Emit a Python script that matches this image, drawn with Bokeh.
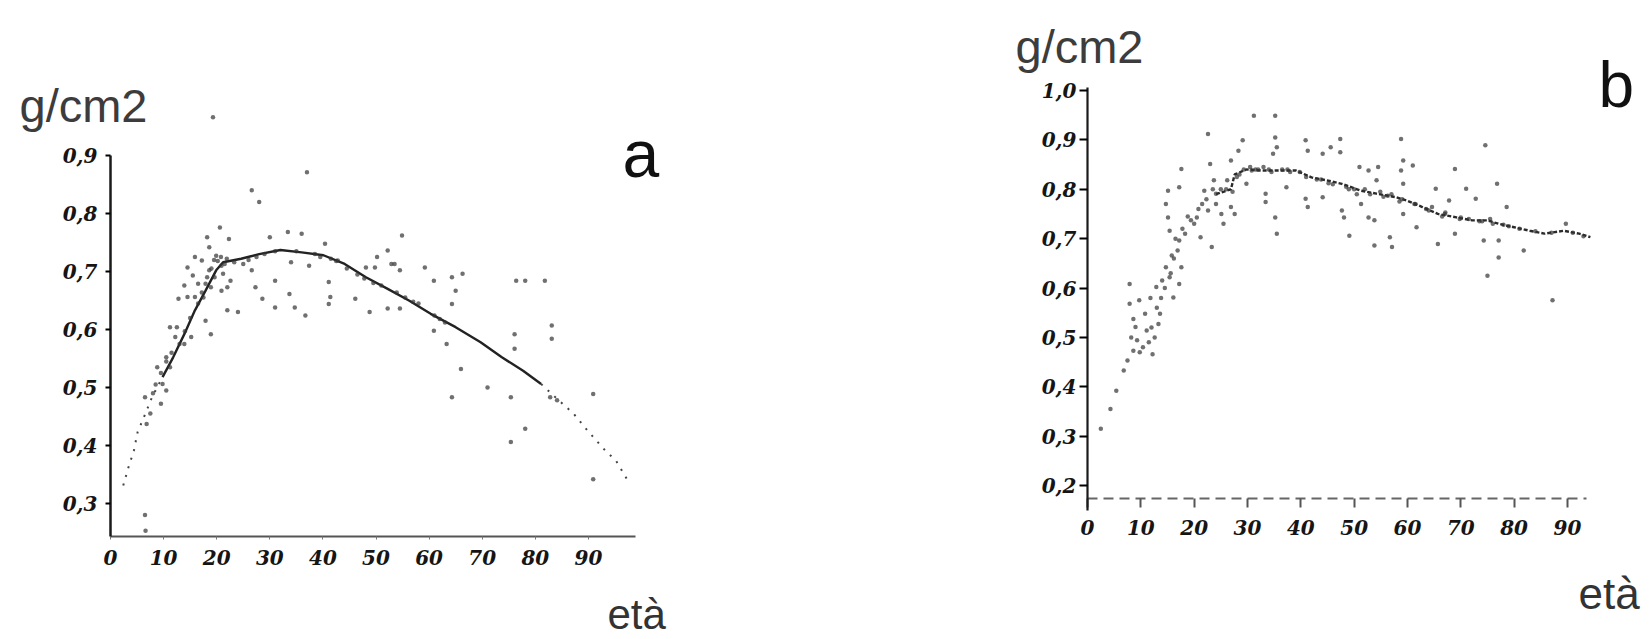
from bokeh.plotting import figure
from bokeh.models import Range1d, FixedTicker, Label
from bokeh.layouts import row
from bokeh.embed import file_html
from bokeh.resources import INLINE

# ---------------- data: panel a ----------------
a_age = [37.0, 26.6, 28.0, 20.6, 18.2, 22.3, 33.4, 36.0, 30.0, 40.4, 54.9, 52.2, 50.2, 53.5, 54.5, 59.2,
         60.9, 66.3, 64.3, 76.4, 78.1, 81.8, 83.1, 83.1, 76.1, 76.1, 65.0, 64.3, 60.9, 63.3, 66.0, 71.0,
         64.3, 75.4, 75.4, 78.1, 82.8, 90.9, 90.9, 84.1,
         31.0, 33.7, 31.0, 28.6, 34.7, 36.7, 41.1, 41.1, 41.4, 46.1, 48.8, 52.2, 54.5, 53.9, 24.0, 22.0,
         17.9, 18.9, 27.3, 26.6, 25.0, 34.0, 37.4, 42.8, 48.1, 49.8, 52.9,
         14.5, 15.9, 17.2, 18.6, 19.9, 20.9, 19.6, 17.9, 17.2, 15.9, 14.5, 12.8, 12.5, 11.2, 12.2, 13.9,
         15.2, 10.5, 11.2, 8.8, 9.8, 10.5, 6.5, 9.5, 7.5, 6.8, 22.0, 22.6, 20.9, 18.9, 16.5, 15.5, 13.9,
         21.2, 18.6, 21.9, 23.3, 19.3, 6.6, 6.5,
         44.5, 46.5, 47.8, 49.5, 51.0, 55.5, 57.0, 58.0, 61.0, 62.0, 63.0,
         19.5, 20.2, 20.8, 21.5, 19.0, 18.2, 17.5, 16.5, 15.0, 14.0, 13.0, 11.5, 10.5, 9.5, 8.5, 8.0,
         38.5, 39.5, 41.5, 42.5, 26.0, 27.5, 29.0, 31.0, 35.0]
a_bmd = [0.871, 0.84, 0.82, 0.776, 0.759, 0.756, 0.768, 0.765, 0.759, 0.748, 0.762, 0.736, 0.725, 0.713, 0.702, 0.707,
         0.684, 0.696, 0.69, 0.684, 0.684, 0.684, 0.607, 0.584, 0.592, 0.567, 0.667, 0.644, 0.598, 0.575, 0.532, 0.5,
         0.483, 0.483, 0.406, 0.429, 0.483, 0.489, 0.342, 0.478,
         0.684, 0.661, 0.638, 0.653, 0.638, 0.624, 0.682, 0.644, 0.656, 0.653, 0.63, 0.636, 0.636, 0.664, 0.63, 0.633,
         0.615, 0.592, 0.673, 0.702, 0.713, 0.716, 0.71, 0.719, 0.707, 0.707, 0.713,
         0.707, 0.725, 0.719, 0.742, 0.727, 0.71, 0.69, 0.679, 0.664, 0.656, 0.656, 0.653, 0.604, 0.604, 0.587, 0.575,
         0.587, 0.552, 0.535, 0.535, 0.506, 0.495, 0.483, 0.472, 0.455, 0.437, 0.673, 0.684, 0.667, 0.673, 0.679, 0.693, 0.676,
         0.696, 0.702, 0.722, 0.716, 0.966, 0.253, 0.28,
         0.705, 0.695, 0.688, 0.68, 0.676, 0.655, 0.648, 0.645, 0.624, 0.618, 0.612,
         0.72, 0.718, 0.725, 0.713, 0.705, 0.69, 0.655, 0.645, 0.62, 0.597, 0.575, 0.56, 0.545, 0.525, 0.505, 0.49,
         0.73, 0.725, 0.722, 0.718, 0.72, 0.725, 0.73, 0.735, 0.735]

a_head_age = [2.4, 3.4, 4.4, 5.1, 6.8, 7.8, 9.8]
a_head_bmd = [0.331, 0.363, 0.391, 0.423, 0.46, 0.483, 0.518]
a_main_age = [9.8, 11.8, 13.9, 15.9, 17.9, 19.9, 21.2, 24.6, 28.0, 32.0, 36.0, 40.1, 44.1, 48.1, 52.2, 56.2,
              60.3, 65.0, 69.7, 73.7, 77.7, 81.1]
a_main_bmd = [0.518, 0.552, 0.592, 0.633, 0.667, 0.702, 0.716, 0.722, 0.73, 0.737, 0.733, 0.728, 0.713, 0.69, 0.67, 0.65,
              0.627, 0.604, 0.578, 0.552, 0.529, 0.506]
a_tail_age = [81.1, 83.8, 87.2, 89.8, 93.2, 95.2, 97.2]
a_tail_bmd = [0.506, 0.483, 0.455, 0.426, 0.391, 0.374, 0.343]

# ---------------- data: panel b ----------------
b_age = [2.5, 4.3, 5.4, 6.8, 7.5, 8.6, 9.3, 9.0, 8.6, 7.9, 7.9, 9.7, 10.8, 11.1, 10.4, 12.2, 12.6, 13.3, 13.6,
         12.9, 14.0, 15.4, 14.7, 15.8, 16.9, 17.2, 15.4, 15.1, 14.7, 15.1, 17.2, 17.6, 17.2, 16.1, 17.6, 18.3,
         19.4, 20.5, 21.2, 21.5, 22.6, 23.3, 21.9, 23.0, 22.6, 23.7, 24.1, 25.1, 24.1, 25.5,
         31.2, 35.2, 29.1, 28.3, 26.9, 26.2, 26.9, 27.6, 29.8, 33.4, 33.4, 35.2, 35.5, 35.2, 35.5, 34.8, 37.3,
         40.9, 41.3, 44.1, 45.6, 47.4, 47.4, 40.9, 41.3, 44.1, 47.7, 48.1, 51.0, 52.7, 54.2, 51.3, 52.7, 53.8,
         49.1, 53.8, 56.7, 57.1, 54.5, 58.8, 59.2, 58.8, 61.0, 59.2, 61.3, 59.2, 61.7, 65.7, 65.3, 67.1, 68.9,
         68.9, 71.0, 72.8, 74.6, 76.8, 77.1, 77.1, 74.3, 75.0, 78.6, 81.8, 87.2, 89.7, 64.6, 67.8, 70.0,
         28.5, 30.5, 31.5, 33.0, 34.5, 36.5, 38.0, 43.0, 46.0, 49.0, 50.5, 52.0, 55.5, 57.0, 58.5, 63.5, 66.5,
         73.5, 76.0, 79.0,
         8.2, 9.8, 11.5, 12.0, 13.0, 11.8, 13.8, 14.5, 15.6, 16.2, 16.5, 17.8, 18.8, 20.0, 20.8, 22.3, 23.5,
         25.0, 26.0, 27.2,
         28.0, 29.3, 30.8, 32.0, 34.0, 37.5, 39.8, 41.0, 43.8, 45.2, 48.5, 50.0, 53.0, 54.9, 56.3, 59.0, 61.5,
         64.0, 67.0, 69.8, 71.5, 74.0, 75.5, 78.0, 81.0, 84.0, 87.0, 91.0, 93.0]
b_bmd = [0.315, 0.355, 0.392, 0.433, 0.453, 0.473, 0.494, 0.521, 0.537, 0.568, 0.608, 0.575, 0.548, 0.514, 0.48,
         0.466, 0.5, 0.527, 0.548, 0.602, 0.615, 0.622, 0.642, 0.666, 0.676, 0.696, 0.716, 0.743, 0.77, 0.797,
         0.804, 0.841, 0.608, 0.581, 0.642, 0.71, 0.737, 0.743, 0.703, 0.77, 0.757, 0.683, 0.797, 0.851, 0.912,
         0.818, 0.77, 0.75, 0.791, 0.73,
         0.949, 0.949, 0.899, 0.878, 0.858, 0.818, 0.764, 0.75, 0.811, 0.791, 0.774, 0.743, 0.71, 0.905, 0.885,
         0.872, 0.804, 0.899, 0.878, 0.872, 0.885, 0.902, 0.875, 0.781, 0.764, 0.784, 0.757, 0.743, 0.845, 0.838,
         0.818, 0.77, 0.743, 0.737, 0.706, 0.686, 0.703, 0.683, 0.845, 0.902, 0.858, 0.838, 0.848, 0.811, 0.77,
         0.75, 0.723, 0.689, 0.801, 0.753, 0.841, 0.71, 0.801, 0.781, 0.889, 0.811, 0.696, 0.662, 0.696, 0.625,
         0.764, 0.676, 0.575, 0.73, 0.764, 0.777, 0.743,
         0.83, 0.845, 0.84, 0.845, 0.835, 0.84, 0.835, 0.82, 0.81, 0.80, 0.79, 0.80, 0.785, 0.79, 0.775, 0.76,
         0.745, 0.735, 0.73, 0.725,
         0.5, 0.47, 0.49, 0.52, 0.56, 0.58, 0.58, 0.6, 0.63, 0.66, 0.7, 0.72, 0.745, 0.73, 0.76, 0.78, 0.8,
         0.8, 0.8, 0.795,
         0.825, 0.84, 0.838, 0.84, 0.84, 0.84, 0.835, 0.825, 0.82, 0.812, 0.805, 0.8, 0.79, 0.795, 0.787, 0.78,
         0.77, 0.757, 0.75, 0.74, 0.74, 0.735, 0.74, 0.728, 0.72, 0.715, 0.712, 0.712, 0.705]

b_trend_age = [24.1, 26.9, 27.6, 29.8, 32.6, 35.5, 39.1, 42.0, 44.9, 47.7, 51.3, 54.2, 57.8, 59.9, 62.8, 65.7,
               69.2, 72.1, 75.0, 77.1, 80.0, 82.9, 85.7, 89.3, 92.2, 94.3]
b_trend_bmd = [0.79, 0.80, 0.83, 0.84, 0.838, 0.838, 0.838, 0.824, 0.818, 0.811, 0.797, 0.791, 0.784, 0.777,
               0.764, 0.75, 0.743, 0.737, 0.737, 0.73, 0.723, 0.716, 0.71, 0.716, 0.71, 0.703]

# ---------------- ticks ----------------
x_ticks = [0, 10, 20, 30, 40, 50, 60, 70, 80, 90]
x_tick_labels = ["0", "10", "20", "30", "40", "50", "60", "70", "80", "90"]
a_y_ticks = [0.3, 0.4, 0.5, 0.6, 0.7, 0.8, 0.9]
a_y_tick_labels = ["0,3", "0,4", "0,5", "0,6", "0,7", "0,8", "0,9"]
b_y_ticks = [0.2, 0.3, 0.4, 0.5, 0.6, 0.7, 0.8, 0.9, 1.0]
b_y_tick_labels = ["0,2", "0,3", "0,4", "0,5", "0,6", "0,7", "0,8", "0,9", "1,0"]

unit_label = "g/cm2"
x_title = "età"

TICK_FONT = "DejaVu Serif"


def base_fig(width, xr, yr):
    p = figure(width=width, height=639, output_backend="svg", toolbar_location=None,
               x_range=Range1d(*xr), y_range=Range1d(*yr),
               min_border_left=0, min_border_right=0, min_border_top=0, min_border_bottom=0)
    p.outline_line_color = None
    p.xgrid.visible = False
    p.ygrid.visible = False
    p.background_fill_color = "white"
    p.border_fill_color = "white"
    for ax in (p.xaxis[0], p.yaxis[0]):
        ax.major_label_text_font = TICK_FONT
        ax.major_label_text_font_style = "bold italic"
        ax.major_label_text_font_size = "20px"
        ax.major_label_text_color = "#151515"
        ax.minor_tick_line_color = None
        ax.major_tick_in = 0
    return p


def add_label(p, text, x, y, size, color):
    p.add_layout(Label(x=x, y=y, x_units="canvas", y_units="canvas", text=text,
                       text_font="Liberation Sans", text_font_size=size, text_color=color,
                       text_baseline="alphabetic", text_align="left"))


# ---------------- panel a ----------------
pa = base_fig(826, (-20.716, 134.84), (0.06552, 1.16724))
pa.xaxis.fixed_location = 0.2431
pa.yaxis.fixed_location = 0
pa.xaxis.ticker = FixedTicker(ticks=x_ticks)
pa.xaxis.major_label_overrides = dict(zip(x_ticks, x_tick_labels))
pa.yaxis.ticker = FixedTicker(ticks=a_y_ticks)
pa.yaxis.major_label_overrides = dict(zip(a_y_ticks, a_y_tick_labels))
pa.xaxis.bounds = (0, 98.8)
pa.yaxis.bounds = (0.2431, 0.9)
pa.yaxis.axis_line_width = 2.5
pa.yaxis.axis_line_color = "#1a1a1a"
pa.yaxis.major_tick_out = 5
pa.yaxis.major_tick_line_width = 2
pa.yaxis.major_label_standoff = 8
pa.xaxis.axis_line_width = 2
pa.xaxis.axis_line_color = "#555555"
pa.xaxis.major_tick_out = 3
pa.xaxis.major_tick_line_color = "#777777"
pa.xaxis.major_label_standoff = 10

pa.line(a_head_age, a_head_bmd, line_color="#444444", line_width=2, line_dash="2 7")
pa.line(a_main_age, a_main_bmd, line_color="#222222", line_width=2.4)
pa.line(a_tail_age, a_tail_bmd, line_color="#444444", line_width=2, line_dash="2 7")
pa.scatter(a_age, a_bmd, size=4.5, fill_color="#333333", line_color=None, fill_alpha=0.7)

add_label(pa, unit_label, 19, 105, "47px", "#3c3c3c")
add_label(pa, "a", 622, 153, "66px", "#111111")
add_label(pa, x_title, 607, 614, "42px", "#333333")

# ---------------- panel b ----------------
pb = base_fig(825, (-48.94, 105.76), (-0.1119, 1.18228))
pb.xaxis.fixed_location = 0.17367
pb.yaxis.fixed_location = 0
pb.xaxis.ticker = FixedTicker(ticks=x_ticks)
pb.xaxis.major_label_overrides = dict(zip(x_ticks, x_tick_labels))
pb.yaxis.ticker = FixedTicker(ticks=b_y_ticks)
pb.yaxis.major_label_overrides = dict(zip(b_y_ticks, b_y_tick_labels))
pb.xaxis.bounds = (0, 93.6)
pb.yaxis.bounds = (0.15, 1.006)
pb.yaxis.axis_line_width = 2.2
pb.yaxis.axis_line_color = "#1a1a1a"
pb.yaxis.major_tick_out = 8
pb.yaxis.major_tick_line_width = 2
pb.yaxis.major_label_standoff = 3
pb.xaxis.axis_line_width = 2
pb.xaxis.axis_line_color = "#666666"
pb.xaxis.axis_line_dash = "10 6"
pb.xaxis.major_tick_out = 9
pb.xaxis.major_tick_line_width = 2
pb.xaxis.major_tick_line_color = "#555555"
pb.xaxis.major_label_standoff = 12

pb.line(b_trend_age, b_trend_bmd, line_color="#2a2a2a", line_width=2.4, line_dash="4 2")
pb.scatter(b_age, b_bmd, size=4.5, fill_color="#333333", line_color=None, fill_alpha=0.7)

add_label(pb, unit_label, 189, 46, "47px", "#3c3c3c")
add_label(pb, "b", 772, 84, "64px", "#111111")
add_label(pb, x_title, 752, 593, "44px", "#333333")

layout = row(pa, pb)
open("out.html", "w").write(file_html(layout, INLINE))
